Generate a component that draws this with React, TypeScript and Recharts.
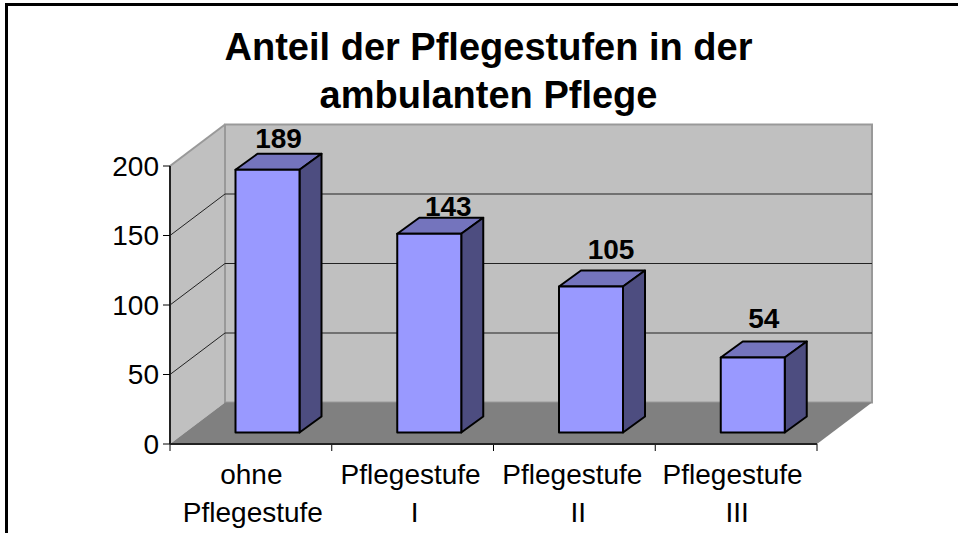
import { Bar, BarChart, LabelList, XAxis, YAxis, usePlotArea } from 'recharts';

const categories = ['ohne Pflegestufe', 'Pflegestufe I', 'Pflegestufe II', 'Pflegestufe III'];
const counts = [189, 143, 105, 54];
const yTicks = [0, 50, 100, 150, 200];
const titleLines = ['Anteil der Pflegestufen in der', 'ambulanten Pflege'];

const rows = categories.map((name, i) => ({ name, count: counts[i] }));

const FONT = '"Liberation Sans", Arial, sans-serif';
const DEPTH_X = 55; // wall depth, from the picture
const DEPTH_Y = 41.5;
const BAR_DX = 16.5; // bars stand in the middle of the floor
const BAR_DY = -11.5;
const BAR_SIDE_X = 22;
const BAR_SIDE_Y = 16;
// Excel's label spots differ from bar to bar
const labelNudge = [
  { dx: 11, dy: 6 },
  { dx: 19, dy: 2 },
  { dx: 20, dy: 12 },
  { dx: 11, dy: 13 },
];
// same for the axis labels, one dx per line
const tickNudge = [
  [0.5, 2],
  [-2, 2],
  [-2, 4],
  [-3.5, 1],
];

function Walls() {
  const plot = usePlotArea();
  if (!plot) return null;
  const left = plot.x;
  const right = plot.x + plot.width;
  const bottom = plot.y + plot.height;
  const band = plot.width / categories.length;
  const yOf = (v: number) => bottom - (v / 200) * plot.height;
  const backY = (v: number) => yOf(v) - DEPTH_Y;
  return (
    <g>
      <polygon
        points={`${left},${yOf(0)} ${left + DEPTH_X},${backY(0)} ${left + DEPTH_X},${backY(200)} ${left},${yOf(200)}`}
        fill="#c0c0c0"
      />
      <polygon
        points={`${left + DEPTH_X},${backY(0)} ${right + DEPTH_X},${backY(0)} ${right + DEPTH_X},${backY(200)} ${left + DEPTH_X},${backY(200)}`}
        fill="#c0c0c0"
        stroke="#999999"
        strokeWidth={2}
      />
      <polygon
        points={`${left},${bottom} ${left + DEPTH_X},${backY(0)} ${right + DEPTH_X},${backY(0)} ${right},${bottom}`}
        fill="#808080"
      />
      <line x1={left} y1={yOf(200)} x2={left + DEPTH_X} y2={backY(200)} stroke="#999999" strokeWidth={2} />
      {yTicks.slice(1, -1).map(v => (
        <g key={v} stroke="#222222" strokeWidth={1}>
          <line x1={left} y1={yOf(v)} x2={left + DEPTH_X} y2={backY(v)} />
          <line x1={left + DEPTH_X} y1={backY(v)} x2={right + DEPTH_X} y2={backY(v)} />
        </g>
      ))}
      {/* x ticks sit between the categories, not under them */}
      {[0, 1, 2, 3, 4].map(i => (
        <line key={i} x1={left + i * band} y1={bottom} x2={left + i * band} y2={bottom + 7} stroke="#000000" />
      ))}
    </g>
  );
}

function Box3D(props: any) {
  const { x, y, width, height } = props;
  const fx = x + BAR_DX;
  const fy = y + BAR_DY;
  const r = fx + width;
  const b = fy + height;
  const sx = BAR_SIDE_X;
  const sy = BAR_SIDE_Y;
  return (
    <g stroke="#000000" strokeWidth={2} strokeLinejoin="round">
      <polygon points={`${fx},${fy} ${fx + sx},${fy - sy} ${r + sx},${fy - sy} ${r},${fy}`} fill="#7474bd" />
      <polygon points={`${r},${fy} ${r + sx},${fy - sy} ${r + sx},${b - sy} ${r},${b}`} fill="#4d4d80" />
      <rect x={fx} y={fy} width={width} height={height} fill="#9999ff" />
    </g>
  );
}

function BarValue(props: any) {
  const { x, y, width, value, index } = props;
  const n = labelNudge[index];
  return (
    <text
      x={x + BAR_DX + width / 2 + n.dx}
      y={y + BAR_DY - BAR_SIDE_Y - n.dy}
      textAnchor="middle"
      fontFamily={FONT}
      fontWeight="bold"
      fontSize={28}
      fill="#000000"
    >
      {value}
    </text>
  );
}

function CategoryTick(props: any) {
  const { x, y, payload } = props;
  const words = String(payload.value).split(' ');
  const nudge = tickNudge[categories.indexOf(payload.value)];
  return (
    <text textAnchor="middle" fontFamily={FONT} fontSize={28} fill="#000000">
      {words.map((w, i) => (
        <tspan key={i} x={x + nudge[i]} y={y + 32 + i * 38}>
          {w}
        </tspan>
      ))}
    </text>
  );
}

export default function App() {
  return (
    <div style={{ position: 'absolute', left: 0, top: 0, width: 958, height: 533, background: '#fff' }}>
      <BarChart
        width={958}
        height={533}
        data={rows}
        margin={{ top: 166, right: 141, bottom: 0, left: 0 }}
        barCategoryGap={0}
      >
        <Walls />
        <XAxis
          dataKey="name"
          interval={0}
          height={89}
          tickLine={false}
          axisLine={{ stroke: '#222222', strokeWidth: 2 }}
          tick={<CategoryTick />}
        />
        <YAxis
          domain={[0, 200]}
          ticks={yTicks}
          width={170}
          interval={0}
          tickSize={7}
          tickMargin={4}
          tickLine={{ stroke: '#000000' }}
          axisLine={{ stroke: '#222222', strokeWidth: 2 }}
          tick={{ fontFamily: FONT, fontSize: 28, fill: '#000000' }}
        />
        <Bar dataKey="count" barSize={64} shape={<Box3D />} isAnimationActive={false}>
          <LabelList dataKey="count" content={<BarValue />} />
        </Bar>
        <g>
          {titleLines.map((line, i) => (
            <text
              key={line}
              x={488.5}
              y={60 + i * 48}
              textAnchor="middle"
              fontFamily={FONT}
              fontWeight="bold"
              fontSize={38}
              fill="#000000"
            >
              {line}
            </text>
          ))}
        </g>
        <polyline points="6.5,533 6.5,4.5 958,4.5" fill="none" stroke="#000000" strokeWidth={3} />
      </BarChart>
    </div>
  );
}
